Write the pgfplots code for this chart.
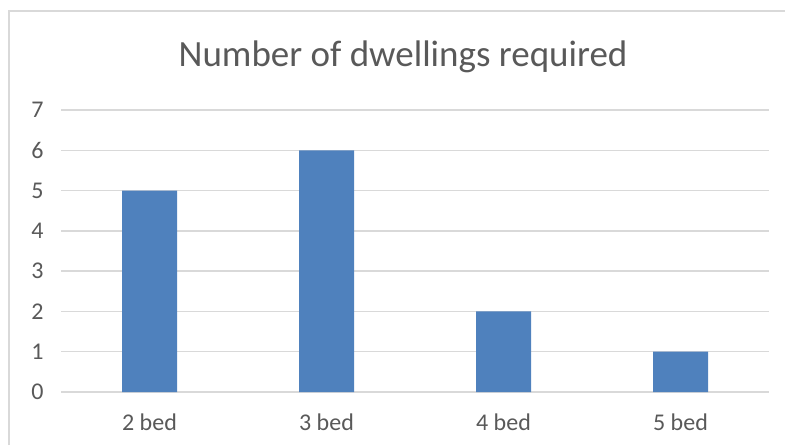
\documentclass[border=0pt]{standalone}
\usepackage{pgfplots}
\pgfplotsset{compat=1.18}
\usepackage{fontspec}
\setmainfont{Carlito}
\definecolor{barblue}{HTML}{4F81BD}
\definecolor{txtgray}{HTML}{595959}
\definecolor{gridgray}{HTML}{D9D9D9}
\begin{document}
\begin{tikzpicture}[x=1pt,y=1pt]
\useasboundingbox (0,0) rectangle (785,445);
% chart frame (open at right and bottom, as cropped in the reference)
\draw[gridgray,line width=1.4pt] (9,0) -- (9,434) -- (785,434);
\node[font=\fontsize{37}{40}\selectfont,text=txtgray] at (403,388) {Number of dwellings required};
\begin{axis}[
  at={(61pt,53pt)}, anchor=south west,
  scale only axis,
  width=708pt, height=282pt,
  xmin=-0.5, xmax=3.5,
  ymin=0, ymax=7,
  ytick={0,1,...,7},
  xtick=data,
  xticklabels={2 bed,3 bed,4 bed,5 bed},
  axis line style={draw=none},
  major tick length=0pt,
  ymajorgrids,
  grid style={gridgray,line width=1.4pt},
  tick label style={font=\fontsize{24}{27}\selectfont,text=txtgray},
  /pgf/number format/assume math mode=true,
  yticklabel style={xshift=-14pt},
  xticklabel style={yshift=-18pt},
  ybar, bar width=55pt,
  clip=false,
]
\addplot[fill=barblue,draw=none] coordinates {(0,5) (1,6) (2,2) (3,1)};
\end{axis}
\end{tikzpicture}
\end{document}
